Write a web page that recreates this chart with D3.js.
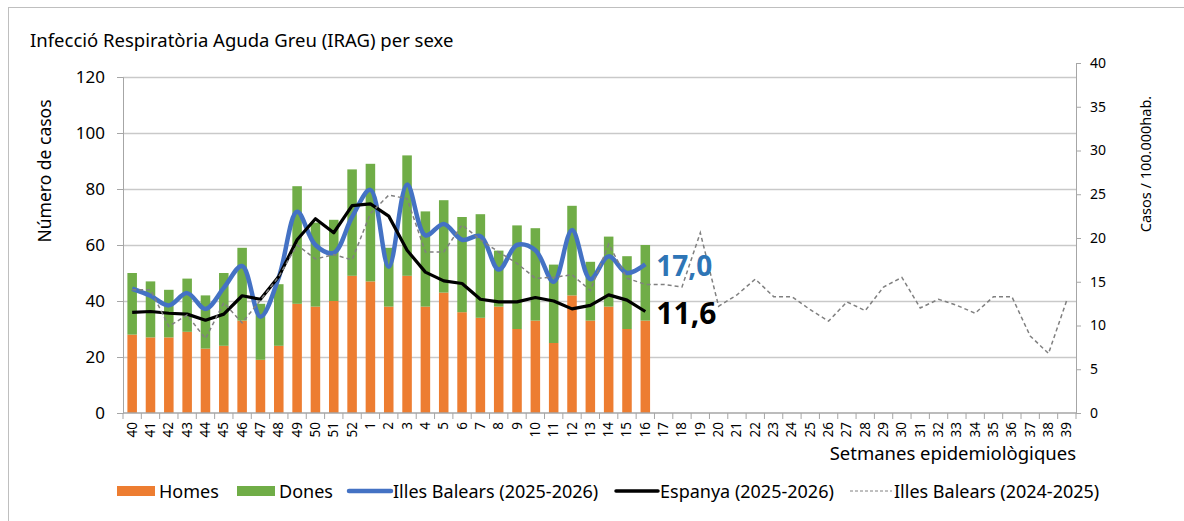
<!DOCTYPE html>
<html>
<head>
<meta charset="utf-8">
<script src="https://cdn.jsdelivr.net/npm/d3@7"></script>
<style>
  body { margin: 0; background: #fff; }
  svg text { font-family: "Noto Sans", sans-serif; fill: #000; }
</style>
</head>
<body>
<div id="chart"></div>
<script>
// setmanes epidemiològiques (40..52, 1..39)
const weeks = ["40","41","42","43","44","45","46","47","48","49","50","51","52",
  "1","2","3","4","5","6","7","8","9","10","11","12","13","14","15","16","17","18","19","20",
  "21","22","23","24","25","26","27","28","29","30","31","32","33","34","35","36","37","38","39"];

// casos per sexe (fins setmana 16)
const homes = [28,27,27,29,23,24,33,19,24,39,38,40,49,47,38,49,38,43,36,34,38,30,33,25,42,33,38,30,33];
const total = [50,47,44,48,42,50,59,39,46,81,68,69,87,89,59,92,72,76,70,71,58,67,66,53,74,54,63,56,60];
const dones = total.map((t, i) => t - homes[i]);

// taxes per 100.000 hab.
const balears2526 = [14.2,13.4,12.3,13.7,11.9,14.3,16.8,11.0,15.5,23.0,19.2,18.3,22.4,25.5,16.7,26.1,
  20.3,21.6,19.8,20.2,16.4,19.2,18.6,15.0,20.9,15.3,17.9,16.0,17.0];
const espanya2526 = [11.5,11.6,11.4,11.3,10.6,11.3,13.4,13.0,15.6,19.8,22.2,20.6,23.7,23.9,22.5,18.6,
  16.1,15.1,14.8,13.0,12.7,12.7,13.2,12.8,11.9,12.3,13.5,12.9,11.6];
const balears2425 = [14.1,14.1,9.9,11.2,8.5,12.6,10.3,12.9,15.6,19.2,17.6,18.1,17.5,22.8,24.9,24.5,
  18.4,18.4,21.5,19.8,18.4,17.1,15.4,15.5,15.8,14.0,19.3,15.4,14.7,14.7,14.4,20.6,12.2,13.5,15.3,
  13.3,13.3,11.8,10.5,12.7,11.7,14.4,15.5,12.0,13.0,12.3,11.4,13.3,13.3,8.8,6.8,12.9];

const leftTicks = [0,20,40,60,80,100,120];
const rightTicks = [0,5,10,15,20,25,30,35,40];

const width = 1184, height = 521;
const plot = { left: 123, right: 1076, bottom: 413 };

const svg = d3.select("#chart").append("svg")
  .attr("width", width).attr("height", height);

// marc del gràfic
svg.append("rect")
  .attr("x", 8.5).attr("y", 7.5)
  .attr("width", 1190).attr("height", 530)
  .attr("fill", "none").attr("stroke", "#bfbfbf");

svg.append("text")
  .attr("x", 30).attr("y", 47)
  .style("font-size", "18.5px")
  .text("Infecció Respiratòria Aguda Greu (IRAG) per sexe");

const x = d3.scaleBand().domain(weeks).range([plot.left, plot.right]).paddingInner(0.48).paddingOuter(0.24);
const xc = d => x(d) + x.bandwidth() / 2;
const yL = d3.scaleLinear().domain([0, 120]).range([plot.bottom, 77]);
const yR = d3.scaleLinear().domain([0, 40]).range([plot.bottom, 63]);

// gridlines
svg.append("g").selectAll("line").data(leftTicks.slice(1)).join("line")
  .attr("x1", plot.left).attr("x2", plot.right)
  .attr("y1", d => Math.round(yL(d)) + 0.5).attr("y2", d => Math.round(yL(d)) + 0.5)
  .attr("stroke", "#c9c9c9").attr("stroke-width", 1.3);

// barres apilades
const stackData = homes.map((h, i) => ({ week: weeks[i], Homes: h, Dones: dones[i] }));
const series = d3.stack().keys(["Homes", "Dones"])(stackData);
const colors = { Homes: "#ed7d31", Dones: "#70ad47" };
svg.append("g").selectAll("g").data(series).join("g")
  .attr("fill", d => colors[d.key])
  .selectAll("rect").data(d => d).join("rect")
  .attr("x", d => x(d.data.week))
  .attr("width", x.bandwidth())
  .attr("y", d => yL(d[1]))
  .attr("height", d => yL(d[0]) - yL(d[1]));

// eixos
const axisL = svg.append("g").attr("transform", `translate(${plot.left},0)`)
  .call(d3.axisLeft(yL).tickValues(leftTicks).tickSize(6).tickPadding(12));
const axisR = svg.append("g").attr("transform", `translate(${plot.right},0)`)
  .call(d3.axisRight(yR).tickValues(rightTicks).tickSize(5).tickPadding(9));
axisL.selectAll("text").style("font-size", "17px");
axisR.selectAll("text").style("font-size", "14px");
[axisL, axisR].forEach(a => {
  a.selectAll("line, path").attr("stroke", "#a6a6a6");
});

// eix de categories
const xAxis = svg.append("g").attr("transform", `translate(0,${plot.bottom})`);
xAxis.append("line").attr("x1", plot.left).attr("x2", plot.right)
  .attr("stroke", "#a6a6a6").attr("stroke-width", 1.3);
xAxis.selectAll(".tk").data(weeks.concat(["end"])).join("line")
  .attr("class", "tk")
  .attr("x1", (d, i) => plot.left + i * x.step()).attr("x2", (d, i) => plot.left + i * x.step())
  .attr("y1", 0).attr("y2", 6).attr("stroke", "#a6a6a6");
xAxis.selectAll("text").data(weeks).join("text")
  .attr("transform", d => `translate(${xc(d) + 4.5},${9}) rotate(-90)`)
  .attr("text-anchor", "end")
  .style("font-size", "13.5px")
  .text(d => d);

svg.append("text")
  .attr("x", plot.right).attr("y", 460)
  .attr("text-anchor", "end")
  .style("font-size", "18.5px")
  .text("Setmanes epidemiològiques");

svg.append("text")
  .attr("transform", "translate(51,171) rotate(-90)")
  .attr("text-anchor", "middle")
  .style("font-size", "17.5px")
  .text("Número de casos");

svg.append("text")
  .attr("transform", "translate(1151,164) rotate(-90)")
  .attr("text-anchor", "middle")
  .style("font-size", "14.5px")
  .text("Casos / 100.000hab.");

// línies
const lineSmooth = d3.line().x((d, i) => xc(weeks[i])).y(d => yR(d)).curve(d3.curveCatmullRom.alpha(0.5));
const lineStraight = d3.line().x((d, i) => xc(weeks[i])).y(d => yR(d));

svg.append("path").datum(balears2526)
  .attr("d", lineSmooth).attr("fill", "none")
  .attr("stroke", "#4472c4").attr("stroke-width", 4.5).attr("stroke-linejoin", "round");
svg.append("path").datum(espanya2526)
  .attr("d", lineStraight).attr("fill", "none")
  .attr("stroke", "#000").attr("stroke-width", 3.2).attr("stroke-linejoin", "round");
svg.append("path").datum(balears2425)
  .attr("d", lineStraight).attr("fill", "none")
  .attr("stroke", "#808080").attr("stroke-width", 1.5).attr("stroke-dasharray", "4,3");

// etiquetes darrer valor
const last = weeks[balears2526.length - 1];
svg.append("text")
  .attr("x", xc(last) + 11).attr("y", yR(balears2526[balears2526.length - 1]) + 12)
  .style("font-size", "28px").style("font-weight", "bold").style("fill", "#2e75b6")
  .text(d3.format(".1f")(balears2526[balears2526.length - 1]).replace(".", ","));
svg.append("text")
  .attr("x", xc(last) + 11).attr("y", yR(espanya2526[espanya2526.length - 1]) + 12)
  .style("font-size", "30px").style("font-weight", "bold")
  .text(d3.format(".1f")(espanya2526[espanya2526.length - 1]).replace(".", ","));

// llegenda
const legend = [
  { label: "Homes", type: "rect", color: "#ed7d31", x: 117 },
  { label: "Dones", type: "rect", color: "#70ad47", x: 237 },
  { label: "Illes Balears (2025-2026)", type: "line", color: "#4472c4", w: 4.5, x: 349 },
  { label: "Espanya (2025-2026)", type: "line", color: "#000", w: 3.5, x: 616 },
  { label: "Illes Balears (2024-2025)", type: "dash", color: "#808080", w: 1, x: 850 }
];
const lg = svg.append("g").selectAll("g").data(legend).join("g")
  .attr("transform", d => `translate(${d.x},491)`);
lg.filter(d => d.type === "rect").append("rect")
  .attr("x", 0).attr("y", -5).attr("width", 38).attr("height", 10).attr("fill", d => d.color);
lg.filter(d => d.type !== "rect").append("line")
  .attr("x1", 0).attr("x2", 42).attr("y1", 0).attr("y2", 0)
  .attr("stroke", d => d.color).attr("stroke-width", d => d.w)
  .attr("stroke-linecap", d => d.type === "dash" ? "butt" : "round")
  .attr("stroke-dasharray", d => d.type === "dash" ? "3,2" : null);
lg.append("text")
  .attr("x", d => d.type === "rect" ? 42 : 44).attr("y", 6.5)
  .style("font-size", "18px")
  .text(d => d.label);
</script>
</body>
</html>
